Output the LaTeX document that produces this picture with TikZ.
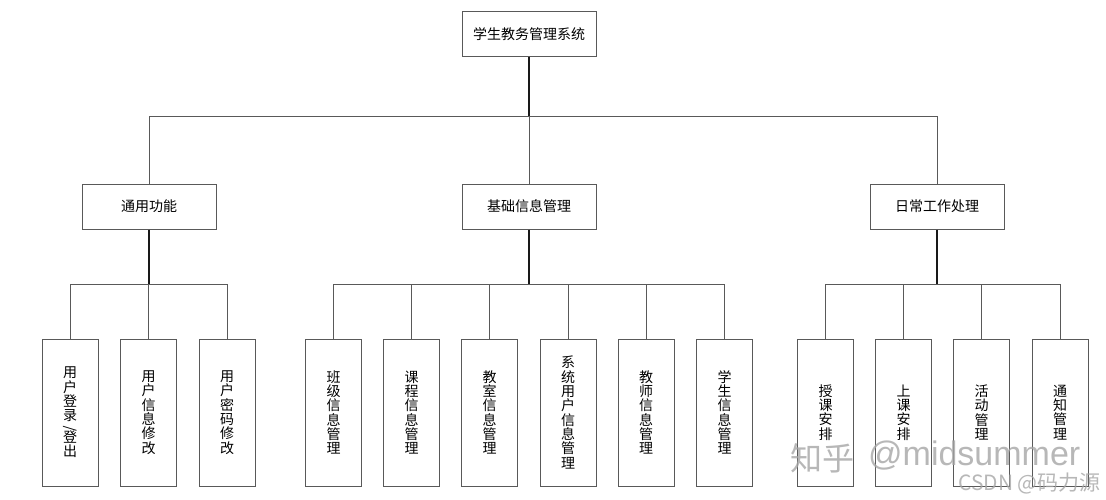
\documentclass[tikz,border=0pt]{standalone}
\usepackage{graphicx}
\usepackage{fontspec}
\setmainfont{Noto Sans CJK SC}
\newfontfamily\latinfont{Liberation Sans}
\tikzset{
  topbox/.style={draw=black!65, line width=1pt, fill=white, minimum width=134pt, minimum height=45pt, inner sep=0pt, font=\fontsize{14}{16}\selectfont},
  leafbox/.style={draw=black!65, line width=1pt, fill=white, minimum width=56pt, minimum height=147pt, inner sep=0pt, align=center, font=\fontsize{14}{14.3}\selectfont},
  link/.style={black!65, line width=1pt},
  trunk/.style={black!90, line width=1.6pt},
  mark text/.style={anchor=west, black!35, opacity=.8, inner sep=0pt}
}
\begin{document}
\begin{tikzpicture}[x=1pt,y=-1pt]
\useasboundingbox (0,0) rectangle (1106,500);
% upper boxes
\node [topbox] (root) at (529,34.5) {学生教务管理系统};
\node [topbox] (common) at (149,206.5) {通用功能};
\node [topbox] (basic) at (529,206.5) {基础信息管理};
\node [topbox] (daily) at (937,206.5) {日常工作处理};
% bus points
\coordinate (bus) at (529,117);
\coordinate (busa) at (149,284);
\coordinate (busb) at (529,284);
\coordinate (busc) at (937,284);
% leaves
\foreach \x/\name/\txt in {70/a1/{用\\户\\登\\录\\[-3.5pt]\rotatebox{90}{/}\\[-3.5pt]登\\出},148.5/a2/{用\\户\\信\\息\\修\\改},227/a3/{用\\户\\密\\码\\修\\改}}{
  \node [leafbox] (\name) at (\x,412.5) {\txt};
  \draw [link] (busa) -| (\name.north);
}
\foreach \x/\name/\txt in {333.5/b1/{班\\级\\信\\息\\管\\理},411.5/b2/{课\\程\\信\\息\\管\\理},489.5/b3/{教\\室\\信\\息\\管\\理},568/b4/{系\\统\\用\\户\\信\\息\\管\\理},646/b5/{教\\师\\信\\息\\管\\理},724.5/b6/{学\\生\\信\\息\\管\\理}}{
  \node [leafbox] (\name) at (\x,412.5) {\txt};
  \draw [link] (busb) -| (\name.north);
}
\foreach \x/\name/\txt in {825.5/c1/{授\\课\\安\\排},903.5/c2/{上\\课\\安\\排},981.5/c3/{活\\动\\管\\理},1060/c4/{通\\知\\管\\理}}{
  \node [leafbox] (\name) at (\x,412.5) {\txt};
  \draw [link] (busc) -| (\name.north);
}
% tree
\draw [trunk] (root) -- (bus);
\draw [link] (bus) -| (common.north);
\draw [link] (bus) -| (daily.north);
\draw [link] (bus) -- (basic.north);
\draw [trunk] (common) -- (busa);
\draw [trunk] (basic) -- (busb);
\draw [trunk] (daily) -- (busc);
% watermarks
\node [mark text, font=\fontsize{32}{34}\selectfont] (zhihu) at (790,458) {知乎};
\node [mark text, font=\fontsize{34}{34}\latinfont] (mid) at (868,456) {@midsummer};
\node [mark text, font=\fontsize{21}{24}\selectfont] (csdn) at (958,484) {CSDN @码力源};
\end{tikzpicture}
\end{document}
